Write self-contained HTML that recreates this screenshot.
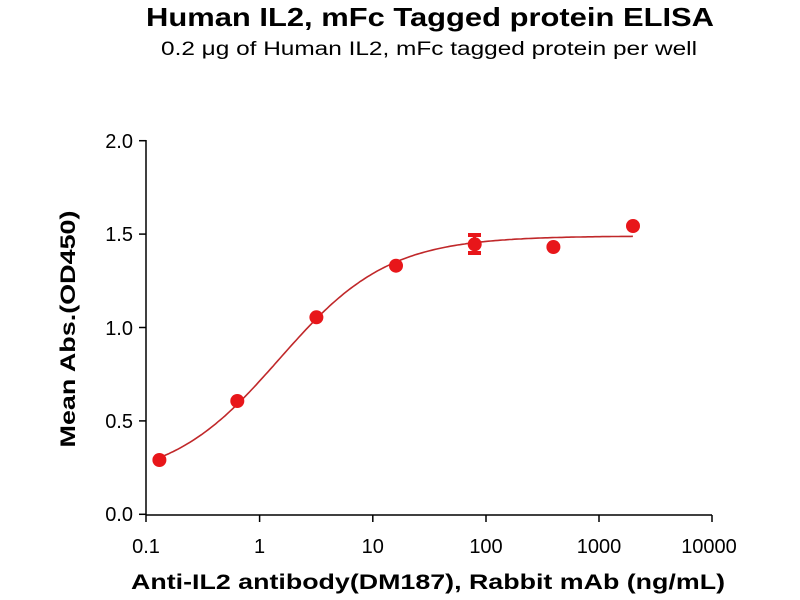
<!DOCTYPE html>
<html><head><meta charset="utf-8"><style>
body{margin:0;background:#fff}
svg{display:block;font-family:"Liberation Sans",Arial,sans-serif}
</style></head><body>
<svg width="800" height="600" viewBox="0 0 800 600">
<text x="430" y="26" text-anchor="middle" font-size="26" font-weight="bold" textLength="568" lengthAdjust="spacingAndGlyphs">Human IL2, mFc Tagged protein ELISA</text>
<text x="429" y="55" text-anchor="middle" font-size="19" textLength="536" lengthAdjust="spacingAndGlyphs">0.2 μg of Human IL2, mFc tagged protein per well</text>
<g stroke="#000" stroke-width="1.5" fill="none">
<line x1="146" y1="140" x2="146" y2="515"/>
<line x1="146" y1="515" x2="712" y2="515"/>
<line x1="139" y1="140.7" x2="146" y2="140.7"/>
<line x1="139" y1="234.1" x2="146" y2="234.1"/>
<line x1="139" y1="327.5" x2="146" y2="327.5"/>
<line x1="139" y1="420.9" x2="146" y2="420.9"/>
<line x1="139" y1="514.3" x2="146" y2="514.3"/>
<line x1="146" y1="515" x2="146" y2="522"/>
<line x1="259.6" y1="515" x2="259.6" y2="522"/>
<line x1="372.8" y1="515" x2="372.8" y2="522"/>
<line x1="486" y1="515" x2="486" y2="522"/>
<line x1="599" y1="515" x2="599" y2="522"/>
<line x1="712" y1="515" x2="712" y2="522"/>
</g>
<g font-size="20" text-anchor="end">
<text x="133" y="148">2.0</text>
<text x="133" y="241">1.5</text>
<text x="133" y="335">1.0</text>
<text x="133" y="428">0.5</text>
<text x="133" y="521">0.0</text>
</g>
<g font-size="20" text-anchor="middle">
<text x="146" y="553">0.1</text>
<text x="259.6" y="553">1</text>
<text x="372.8" y="553">10</text>
<text x="486" y="553">100</text>
<text x="599" y="553">1000</text>
<text x="709" y="553">10000</text>
</g>
<text x="428" y="589" text-anchor="middle" font-size="21" font-weight="bold" textLength="594" lengthAdjust="spacingAndGlyphs">Anti-IL2 antibody(DM187), Rabbit mAb (ng/mL)</text>
<text transform="translate(75,329) rotate(-90)" text-anchor="middle" font-size="21" font-weight="bold" textLength="237" lengthAdjust="spacingAndGlyphs">Mean Abs.(OD450)</text>
<path id="curve" fill="none" stroke="#c0282a" stroke-width="1.6" d=""/>
<g fill="#e8161a">
<circle cx="159.4" cy="460" r="7"/>
<circle cx="237.3" cy="401" r="7"/>
<circle cx="316.4" cy="317.3" r="7"/>
<circle cx="396" cy="265.7" r="7"/>
<circle cx="474.7" cy="244.3" r="7"/>
<circle cx="553.4" cy="247" r="7"/>
<circle cx="633" cy="226" r="7"/>
<rect x="468" y="233" width="13" height="4"/>
<rect x="468" y="251" width="13" height="4"/>
<rect x="473" y="233" width="3" height="22"/>
</g>
<script>
(function(){
var d="",B=0.17,T=1.49,C=1.5,H=0.9;
for(var i=0;i<=200;i++){
var lx=Math.log10(0.13)+(Math.log10(2000)-Math.log10(0.13))*i/200;
var x=Math.pow(10,lx);
var y=B+(T-B)/(1+Math.pow(C/x,H));
var px=146+(lx+1)*113.2, py=514.3-y*186.8;
d+=(i?"L":"M")+px.toFixed(1)+","+py.toFixed(1);
}
document.getElementById("curve").setAttribute("d",d);
})();
</script>
</svg>
</body></html>
